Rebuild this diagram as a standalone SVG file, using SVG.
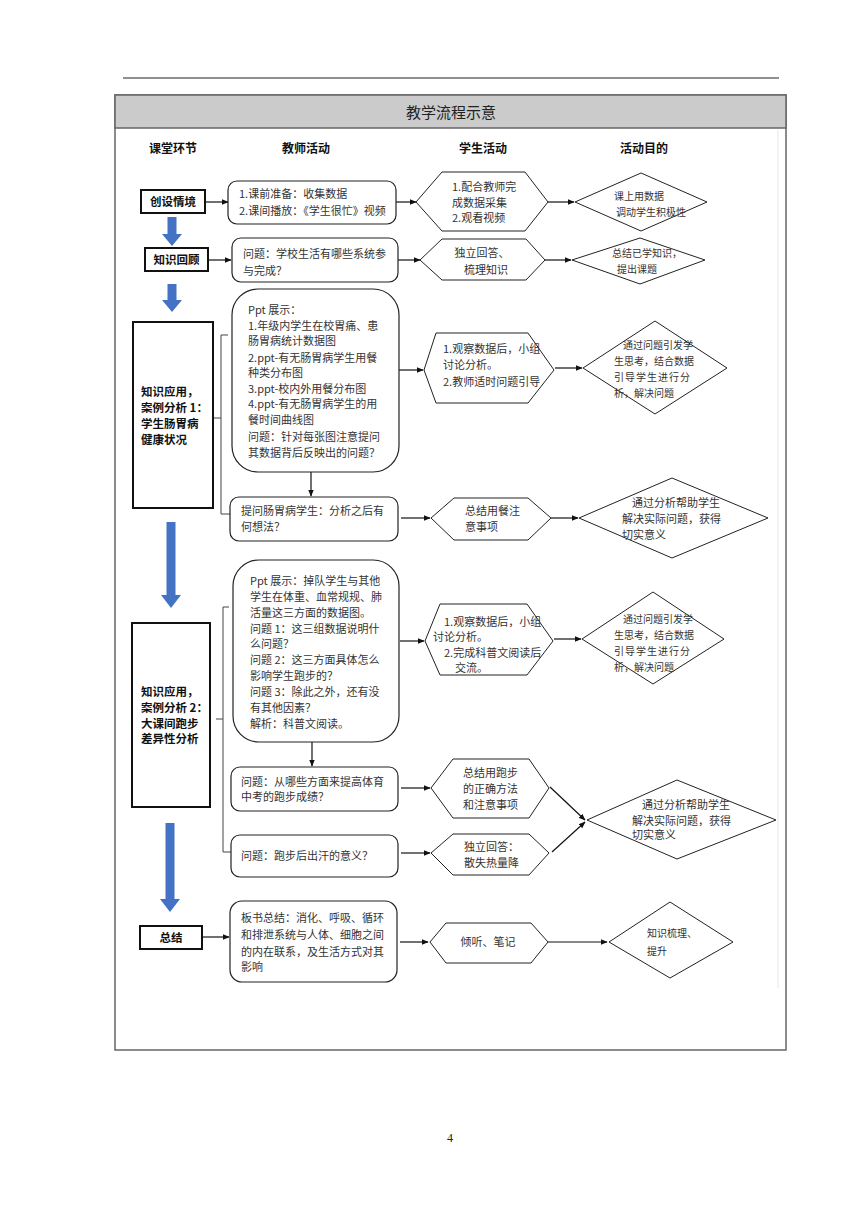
<svg xmlns="http://www.w3.org/2000/svg" width="860" height="1216" viewBox="0 0 860 1216">
<defs>
<marker id="ah" viewBox="0 0 10 10" refX="9" refY="5" markerWidth="7" markerHeight="7" orient="auto" markerUnits="userSpaceOnUse">
<path d="M0,1 L10,5 L0,9 Z" fill="#111"/>
</marker>
<style>
text{font-family:"Noto Sans CJK SC","Liberation Sans",sans-serif;fill:#333;}
.hd{font-size:12px;font-weight:bold;fill:#111;}
.lb{font-size:11.5px;font-weight:bold;fill:#111;}
.t{font-size:11px;}
.s{font-size:11px;}
.d{font-size:10px;}
.d2{font-size:11px;}
.box{fill:#fff;stroke:#222;stroke-width:1.2;}
.lab{fill:#fff;stroke:#111;stroke-width:2;}
.shape{fill:#fff;stroke:#222;stroke-width:1;}
.con{fill:none;stroke:#111;stroke-width:1.2;}
.br{fill:none;stroke:#444;stroke-width:1;}
.blue{fill:#4472c4;}
</style>
</defs>
<rect width="860" height="1216" fill="#fff"/>
<line x1="123" y1="78" x2="779" y2="78" stroke="#222" stroke-width="1.2"/>
<g id="frame">
<rect x="115" y="95" width="671" height="955" fill="#fff" stroke="#666" stroke-width="1.5"/>
<rect x="115" y="95" width="671" height="33" fill="#cbcbcb" stroke="#666" stroke-width="1.5"/>
<line x1="778" y1="130" x2="778" y2="988" stroke="#e6e6e6" stroke-width="1"/>
<text x="451" y="118" text-anchor="middle" style="font-size:15px;fill:#222;">教学流程示意</text>
<text class="hd" x="173" y="153" text-anchor="middle">课堂环节</text>
<text class="hd" x="306" y="153" text-anchor="middle">教师活动</text>
<text class="hd" x="483" y="153" text-anchor="middle">学生活动</text>
<text class="hd" x="644" y="153" text-anchor="middle">活动目的</text>
</g>
<g id="blue-arrows">
<path class="blue" d="M167.5,217 h9 v17 h5.5 l-10,12 l-10,-12 h5.5 z"/>
<path class="blue" d="M167.5,284 h9 v16 h5.5 l-10,12 l-10,-12 h5.5 z"/>
<path class="blue" d="M166.5,522 h9 v73 h5.5 l-10,13 l-10,-13 h5.5 z"/>
<path class="blue" d="M165.5,823 h9 v76 h5.5 l-10,13 l-10,-13 h5.5 z"/>
</g>
<g id="connectors">
<line class="con" x1="205" y1="202" x2="228" y2="202" marker-end="url(#ah)"/>
<line class="con" x1="396" y1="202" x2="416" y2="202" marker-end="url(#ah)"/>
<line class="con" x1="548" y1="202" x2="574" y2="202" marker-end="url(#ah)"/>
<line class="con" x1="208" y1="260" x2="231" y2="260" marker-end="url(#ah)"/>
<line class="con" x1="398" y1="260" x2="420" y2="260" marker-end="url(#ah)"/>
<line class="con" x1="545" y1="260" x2="571" y2="260" marker-end="url(#ah)"/>
<line class="con" x1="399" y1="370" x2="423" y2="370" marker-end="url(#ah)"/>
<line class="con" x1="555" y1="368" x2="582" y2="368" marker-end="url(#ah)"/>
<line class="con" x1="311" y1="472" x2="311" y2="496" marker-end="url(#ah)"/>
<line class="con" x1="401" y1="518" x2="430" y2="518" marker-end="url(#ah)"/>
<line class="con" x1="551" y1="518" x2="578" y2="518" marker-end="url(#ah)"/>
<line class="con" x1="400" y1="641" x2="424" y2="641" marker-end="url(#ah)"/>
<line class="con" x1="554" y1="639" x2="581" y2="639" marker-end="url(#ah)"/>
<line class="con" x1="312" y1="742" x2="312" y2="766" marker-end="url(#ah)"/>
<line class="con" x1="401" y1="788" x2="430" y2="788" marker-end="url(#ah)"/>
<line class="con" x1="550" y1="787" x2="585" y2="820" marker-end="url(#ah)"/>
<line class="con" x1="401" y1="853" x2="430" y2="853" marker-end="url(#ah)"/>
<line class="con" x1="552" y1="852" x2="585" y2="822" marker-end="url(#ah)"/>
<line class="con" x1="202" y1="937" x2="229" y2="937" marker-end="url(#ah)"/>
<line class="con" x1="400" y1="942" x2="428" y2="942" marker-end="url(#ah)"/>
<line class="con" x1="548" y1="942" x2="607" y2="942" marker-end="url(#ah)"/>
<path class="br" d="M228,335 H221 V514 H230 M221,418 H214"/>
<path class="br" d="M229,607 H223 V852 H231 M223,719 H216"/>
</g>
<g id="stage1">
<rect class="lab" x="141" y="190" width="64" height="23"/>
<text class="lb" x="173" y="206" text-anchor="middle">创设情境</text>
</g>
<g id="teacher1">
<rect class="box" x="228" y="181" width="168" height="43" rx="9"/>
<text class="t" x="239" y="198">1.课前准备：收集数据</text>
<text class="t" x="239" y="215">2.课间播放：《学生很忙》视频</text>
</g>
<g id="student1">
<polygon class="shape" points="416,202 442,172 525,172 548,202 525,231 442,231"/>
<text class="s" x="452" y="191">1.配合教师完</text>
<text class="s" x="452" y="207">成数据采集</text>
<text class="s" x="452" y="222">2.观看视频</text>
</g>
<g id="goal1">
<polygon class="shape" points="575,202 641,173 707,202 641,231"/>
<text class="d" x="614" y="200">课上用数据</text>
<text class="d" x="616" y="216">调动学生积极性</text>
</g>
<g id="stage2">
<rect class="lab" x="145" y="248" width="63" height="23"/>
<text class="lb" x="176.5" y="264" text-anchor="middle">知识回顾</text>
</g>
<g id="teacher2">
<rect class="box" x="232" y="238" width="166" height="44" rx="9"/>
<text class="t" x="243" y="258">问题：学校生活有哪些系统参</text>
<text class="t" x="243" y="275">与完成？</text>
</g>
<g id="student2">
<polygon class="shape" points="420,260 442,239 526,239 545,260 526,280 442,280"/>
<text class="s" x="482" y="257" text-anchor="middle">独立回答、</text>
<text class="s" x="486" y="274" text-anchor="middle">梳理知识</text>
</g>
<g id="goal2">
<polygon class="shape" points="572,260 640,238 705,260 640,284"/>
<text class="d" x="612" y="257">总结已学知识，</text>
<text class="d" x="617" y="273">提出课题</text>
</g>
<g id="stage3">
<rect class="lab" x="133" y="322" width="80" height="186"/>
<text class="lb" x="141" y="396">知识应用，</text>
<text class="lb" x="141" y="412">案例分析 1：</text>
<text class="lb" x="141" y="428">学生肠胃病</text>
<text class="lb" x="141" y="444">健康状况</text>
</g>
<g id="teacher3">
<rect class="box" x="232" y="289" width="167" height="183" rx="26"/>
<text class="t" x="248" y="314">Ppt 展示：</text>
<text class="t" x="248" y="330">1.年级内学生在校胃痛、患</text>
<text class="t" x="248" y="345">肠胃病统计数据图</text>
<text class="t" x="248" y="362">2.ppt-有无肠胃病学生用餐</text>
<text class="t" x="248" y="377">种类分布图</text>
<text class="t" x="248" y="393">3.ppt-校内外用餐分布图</text>
<text class="t" x="248" y="408">4.ppt-有无肠胃病学生的用</text>
<text class="t" x="248" y="424">餐时间曲线图</text>
<text class="t" x="248" y="441">问题：针对每张图注意提问</text>
<text class="t" x="248" y="457">其数据背后反映出的问题？</text>
</g>
<g id="student3">
<polygon class="shape" points="424,370 436,333 528,333 554,370 528,403 436,403"/>
<text class="s" x="443" y="353">1.观察数据后，小组</text>
<text class="s" x="443" y="369">讨论分析。</text>
<text class="s" x="443" y="386">2.教师适时问题引导</text>
</g>
<g id="goal3">
<polygon class="shape" points="583,368 655,321 727,368 655,414"/>
<text class="d" x="623" y="349">通过问题引发学</text>
<text class="d" x="614" y="365">生思考，结合数据</text>
<text class="d" x="614" y="381" letter-spacing="1">引导学生进行分</text>
<text class="d" x="614" y="397">析，解决问题</text>
</g>
<g id="teacher3b">
<rect class="box" x="230" y="497" width="168" height="44" rx="9"/>
<text class="t" x="241" y="515">提问肠胃病学生：分析之后有</text>
<text class="t" x="241" y="531">何想法？</text>
</g>
<g id="student3b">
<polygon class="shape" points="431,518 454,498 528,498 551,518 528,540 454,540"/>
<text class="s" x="465" y="515">总结用餐注</text>
<text class="s" x="465" y="531">意事项</text>
</g>
<g id="goal3b">
<polygon class="shape" points="579,518 672,478 768,518 672,558"/>
<text class="d2" x="632" y="507">通过分析帮助学生</text>
<text class="d2" x="622" y="523">解决实际问题，获得</text>
<text class="d2" x="622" y="539">切实意义</text>
</g>
<g id="stage4">
<rect class="lab" x="132" y="623" width="78" height="184"/>
<text class="lb" x="141" y="696">知识应用，</text>
<text class="lb" x="141" y="712">案例分析 2：</text>
<text class="lb" x="141" y="728">大课间跑步</text>
<text class="lb" x="141" y="743">差异性分析</text>
</g>
<g id="teacher4">
<rect class="box" x="233" y="560" width="166" height="182" rx="26"/>
<text class="t" x="250" y="585">Ppt 展示：掉队学生与其他</text>
<text class="t" x="250" y="601">学生在体重、血常规规、肺</text>
<text class="t" x="250" y="617">活量这三方面的数据图。</text>
<text class="t" x="250" y="633">问题 1：这三组数据说明什</text>
<text class="t" x="250" y="648">么问题？</text>
<text class="t" x="250" y="664">问题 2：这三方面具体怎么</text>
<text class="t" x="250" y="680">影响学生跑步的？</text>
<text class="t" x="250" y="696">问题 3：除此之外，还有没</text>
<text class="t" x="250" y="712">有其他因素？</text>
<text class="t" x="250" y="728">解析：科普文阅读。</text>
</g>
<g id="student4">
<polygon class="shape" points="425,641 440,604 527,604 553,641 527,675 440,675"/>
<text class="s" x="444" y="626">1.观察数据后，小组</text>
<text class="s" x="433" y="641">讨论分析。</text>
<text class="s" x="444" y="657">2.完成科普文阅读后</text>
<text class="s" x="455" y="672">交流。</text>
</g>
<g id="goal4">
<polygon class="shape" points="582,639 653,592 724,639 653,684"/>
<text class="d" x="623" y="623">通过问题引发学</text>
<text class="d" x="614" y="639">生思考，结合数据</text>
<text class="d" x="614" y="655" letter-spacing="1">引导学生进行分</text>
<text class="d" x="614" y="671">析，解决问题</text>
</g>
<g id="teacher4b">
<rect class="box" x="231" y="767" width="167" height="44" rx="9"/>
<text class="t" x="241" y="786">问题：从哪些方面来提高体育</text>
<text class="t" x="241" y="801">中考的跑步成绩？</text>
</g>
<g id="student4b">
<polygon class="shape" points="431,788 453,759 529,759 549,788 529,818 453,818"/>
<text class="s" x="463" y="777">总结用跑步</text>
<text class="s" x="463" y="793">的正确方法</text>
<text class="s" x="463" y="809">和注意事项</text>
</g>
<g id="teacher4c">
<rect class="box" x="231" y="835" width="167" height="42" rx="9"/>
<text class="t" x="241" y="860">问题：跑步后出汗的意义？</text>
</g>
<g id="student4c">
<polygon class="shape" points="431,853 453,834 529,834 549,853 529,875 453,875"/>
<text class="s" x="464" y="851">独立回答：</text>
<text class="s" x="464" y="867">散失热量降</text>
</g>
<g id="goal4b">
<polygon class="shape" points="587,820 677,780 776,820 677,859"/>
<text class="d2" x="642" y="809">通过分析帮助学生</text>
<text class="d2" x="632" y="825">解决实际问题，获得</text>
<text class="d2" x="632" y="839">切实意义</text>
</g>
<g id="stage5">
<rect class="lab" x="140" y="926" width="62" height="23"/>
<text class="lb" x="171" y="942" text-anchor="middle">总结</text>
</g>
<g id="teacher5">
<rect class="box" x="230" y="901" width="167" height="81" rx="12"/>
<text class="t" x="241" y="922">板书总结：消化、呼吸、循环</text>
<text class="t" x="241" y="939">和排泄系统与人体、细胞之间</text>
<text class="t" x="241" y="956">的内在联系，及生活方式对其</text>
<text class="t" x="241" y="971">影响</text>
</g>
<g id="student5">
<polygon class="shape" points="430,942 446,923 531,923 548,942 531,963 446,963"/>
<text class="s" x="488" y="946" text-anchor="middle">倾听、笔记</text>
</g>
<g id="goal5">
<polygon class="shape" points="609,942 670,902 733,942 670,978"/>
<text class="d" x="647" y="937">知识梳理、</text>
<text class="d" x="647" y="955">提升</text>
</g>
<text x="450" y="1142" text-anchor="middle" style="font-family:'Liberation Serif',serif;font-size:12px;fill:#222;">4</text>
</svg>
